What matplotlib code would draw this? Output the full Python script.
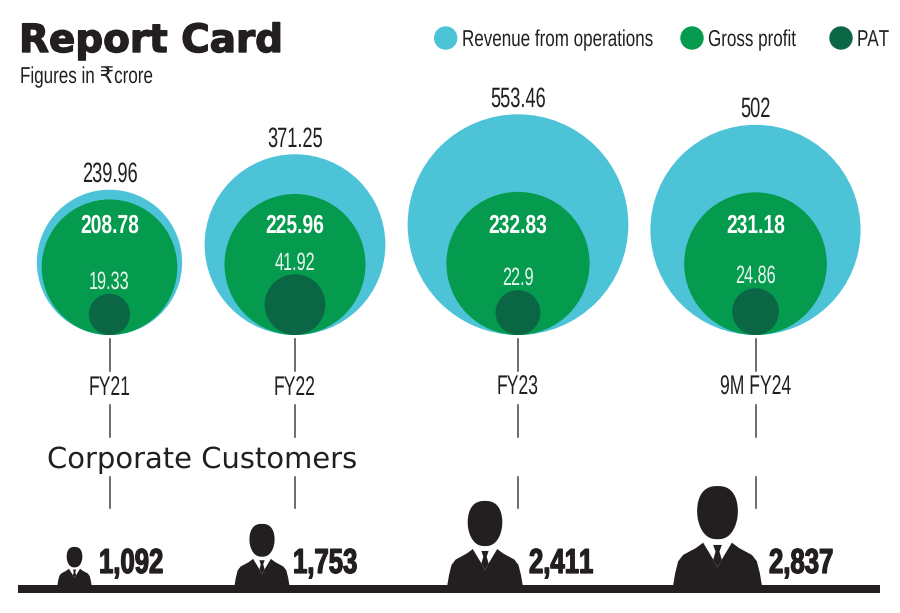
import os
import tempfile
import matplotlib
matplotlib.use("Agg")
import matplotlib.pyplot as plt
import matplotlib.patheffects as pe
from matplotlib import font_manager as fm
from matplotlib.patches import Circle, Polygon, Rectangle
from fontTools.ttLib import TTFont
import numpy as np

plt.rcParams["text.hinting"] = "no_hinting"
plt.rcParams["text.hinting_factor"] = 1

# Daten
years = ["FY21", "FY22", "FY23", "9M FY24"]
revenue = [239.96, 371.25, 553.46, 502]
gross = [208.78, 225.96, 232.83, 231.18]
pat = [19.33, 41.92, 22.9, 24.86]
revenue_labels = ["239.96", "371.25", "553.46", "502"]
gross_labels = ["208.78", "225.96", "232.83", "231.18"]
pat_labels = ["19.33", "41.92", "22.9", "24.86"]
customers = [1092, 1753, 2411, 2837]
legend_labels = ["Revenue from operations", "Gross profit", "PAT"]

CYAN = "#4DC3D8"
GREEN = "#059B4E"
DARK = "#0A6644"
BLACK = "#231F20"


# Schmale Schrift gibt es nicht, also aus Liberation Sans selbst bauen
def scale_font(family, weight, sx, new_name):
    path = fm.findfont(fm.FontProperties(family=family, weight=weight))
    font = TTFont(path)
    glyf = font["glyf"]
    for name in font.getGlyphOrder():
        g = glyf[name]
        if g.isComposite():
            for comp in g.components:
                comp.x = int(round(comp.x * sx))
        elif g.numberOfContours > 0:
            for j, (x, y) in enumerate(g.coordinates):
                g.coordinates[j] = (int(round(x * sx)), y)
        if hasattr(g, "program"):
            g.program.fromBytecode(b"")
        if g.numberOfContours != 0:
            g.recalcBounds(glyf)
        adv, lsb = font["hmtx"][name]
        font["hmtx"][name] = (int(round(adv * sx)), int(round(lsb * sx)))
    for tag in ["fpgm", "prep", "cvt ", "kern", "GPOS", "hdmx", "VDMX", "LTSH"]:
        if tag in font:
            del font[tag]
    for rec in font["name"].names:
        if rec.nameID in (1, 4, 6, 16):
            rec.string = new_name
    out = os.path.join(tempfile.mkdtemp(), new_name + ".ttf")
    font.save(out)
    fm.fontManager.addfont(out)
    return [fm.FontProperties(fname=out).get_name(), "DejaVu Sans"]


NARROW = scale_font("Liberation Sans", "regular", 0.65, "ReportNarrow")
MEDIUM = scale_font("Liberation Sans", "regular", 0.74, "ReportMedium")
NARROW_BOLD = scale_font("Liberation Sans", "bold", 0.74, "ReportBold")

fig = plt.figure(figsize=(9, 6.13), dpi=100)
ax = fig.add_axes([0, 0, 1, 1])
ax.set_xlim(0, 900)
ax.set_ylim(613, 0)
ax.axis("off")

centers = [109.5, 295, 518, 755.5]
body_x = [74.5, 262, 485, 717.5]
number_x = [99, 293, 529, 769]
BOTTOM = 335
k = 22.0 ** 0.5

# Kreise, Flaeche proportional zum Wert
for i in range(4):
    for v, c in zip([revenue[i], gross[i], pat[i]], [CYAN, GREEN, DARK]):
        r = k * v ** 0.5
        ax.add_patch(Circle((centers[i], BOTTOM - r), r, fc=c, ec="none"))
    rr = k * revenue[i] ** 0.5
    ax.text(centers[i], BOTTOM - 2 * rr - 8, revenue_labels[i], ha="center", va="baseline", fontsize=20, color=BLACK, family=NARROW)
    ax.text(centers[i], 226, gross_labels[i], ha="center", va="center", fontsize=18.5, color="white", family=NARROW_BOLD)
    rp = k * pat[i] ** 0.5
    ax.text(centers[i], BOTTOM - 2 * rp - 5, pat_labels[i], ha="center", va="baseline", fontsize=18, color="#EAF6EE", family=NARROW)
    ax.text(centers[i], 388, years[i], ha="center", va="center", fontsize=19.5, color=BLACK, family=NARROW)
    for y0, y1 in [(339, 371), (405, 437), (477, 508)]:
        ax.plot([centers[i]] * 2, [y0, y1], color="#444444", lw=1.1)

# Grundlinie
ax.add_patch(Rectangle((18, 585), 862, 8, fc=BLACK, ec="none"))


def person(cx, h):
    # Figur, Hoehe 1 = Kopf oben bis Linie
    base = 585

    def pts(lst):
        return [(cx + x * h, base - (1 - y) * h) for x, y in lst]

    t = np.linspace(0, 2 * np.pi, 80)
    hx = 0.207 * np.sign(np.cos(t)) * np.abs(np.cos(t)) ** 0.8 * (1 - 0.12 * np.clip(np.sin(t), 0, 1))
    hy = 0.265 + 0.27 * np.sign(np.sin(t)) * np.abs(np.sin(t)) ** 0.85
    ax.add_patch(Polygon(pts(list(zip(hx, hy))), fc=BLACK, ec="none"))
    ax.add_patch(Polygon(pts([(-0.45, 1.0), (-0.43, 0.88), (-0.40, 0.76), (-0.35, 0.695), (-0.22, 0.625), (-0.146, 0.57),
                              (-0.044, 0.74), (0, 0.82), (0.044, 0.74), (0.146, 0.57), (0.22, 0.625), (0.35, 0.695),
                              (0.40, 0.76), (0.43, 0.88), (0.45, 1.0)]), fc=BLACK, ec="none"))
    ax.add_patch(Polygon(pts([(-0.044, 0.593), (0.044, 0.593), (0.02, 0.66), (0.044, 0.745), (0, 0.82), (-0.044, 0.745), (-0.02, 0.66)]), fc=BLACK, ec="none"))


thick = [pe.withStroke(linewidth=0.9, foreground=BLACK)]
for i in range(4):
    person(body_x[i], customers[i] * 0.0347)
    ax.text(number_x[i], 573, f"{customers[i]:,}", ha="left", va="baseline", fontsize=25, color=BLACK, family=NARROW_BOLD, path_effects=thick)

# Legende
for x, c, t in zip([445.7, 692, 841], [CYAN, GREEN, DARK], legend_labels):
    ax.add_patch(Circle((x, 38), 11.7, fc=c, ec="none"))
    ax.text(x + 16, 38, t, ha="left", va="center_baseline", fontsize=16.5, color=BLACK, family=MEDIUM)

ax.text(19, 52, "Report Card", ha="left", va="baseline", fontsize=28, weight="bold", color=BLACK,
        family="DejaVu Sans", path_effects=[pe.withStroke(linewidth=1.0, foreground=BLACK)])
ax.text(20, 75, "Figures in ₹crore", ha="left", va="center_baseline", fontsize=16.5, color=BLACK, family=MEDIUM)
ax.text(47, 457, "Corporate Customers", ha="left", va="center_baseline", fontsize=21, color=BLACK, family="DejaVu Sans")

fig.savefig("out.png", dpi=100)
